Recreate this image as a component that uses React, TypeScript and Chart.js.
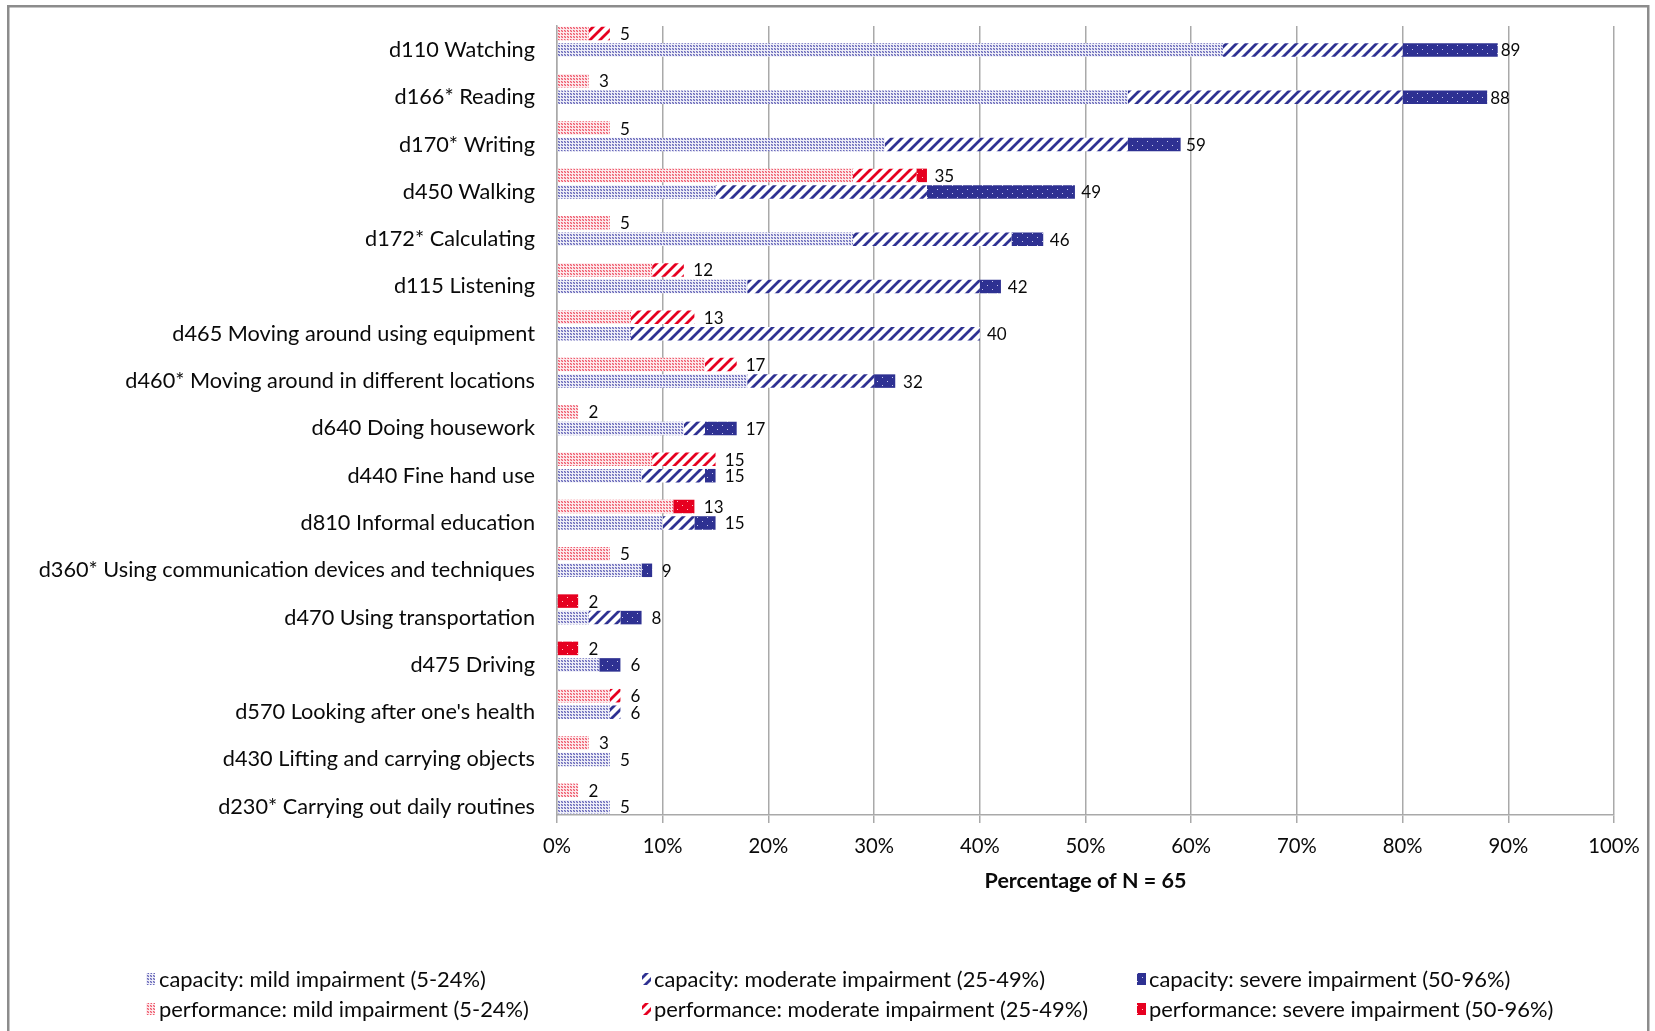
import React, { useEffect, useRef } from 'react';
import { Chart, registerables } from 'chart.js';

Chart.register(...registerables);

const categories = [
  'd110 Watching',
  'd166* Reading',
  'd170* Writing',
  'd450 Walking',
  'd172* Calculating',
  'd115 Listening',
  'd465 Moving around using equipment',
  'd460* Moving around in different locations',
  'd640 Doing housework',
  'd440 Fine hand use',
  'd810 Informal education',
  'd360* Using communication devices and techniques',
  'd470 Using transportation',
  'd475 Driving',
  "d570 Looking after one's health",
  'd430 Lifting and carrying objects',
  'd230* Carrying out daily routines',
];

const capMild = [63, 54, 31, 15, 28, 18, 7, 18, 12, 8, 10, 8, 3, 4, 5, 5, 5];
const capModerate = [17, 26, 23, 20, 15, 22, 33, 12, 2, 6, 3, 0, 3, 0, 1, 0, 0];
const capSevere = [9, 8, 5, 14, 3, 2, 0, 2, 3, 1, 2, 1, 2, 2, 0, 0, 0];
const perfMild = [3, 3, 5, 28, 5, 9, 7, 14, 2, 9, 11, 5, 0, 0, 5, 3, 2];
const perfModerate = [2, 0, 0, 6, 0, 3, 6, 3, 0, 6, 0, 0, 0, 0, 1, 0, 0];
const perfSevere = [0, 0, 0, 1, 0, 0, 0, 0, 0, 0, 2, 0, 2, 2, 0, 0, 0];

const seriesNames = [
  'performance: mild impairment (5-24%)',
  'performance: moderate impairment (25-49%)',
  'performance: severe impairment (50-96%)',
  'capacity: mild impairment (5-24%)',
  'capacity: moderate impairment (25-49%)',
  'capacity: severe impairment (50-96%)',
];

const xTickValues = [0, 10, 20, 30, 40, 50, 60, 70, 80, 90, 100];
const axisTitle = 'Percentage of N = 65';

const FONT = "Lato, 'Noto Sans', sans-serif";
const TEXT = '#0a0a0a';
const GRID = '#a9a9a9';
const NAVY = '#2e3192';
const RED = '#e60020';

function tile(w: number, h: number, draw: (g: CanvasRenderingContext2D) => void) {
  const c = document.createElement('canvas');
  c.width = w;
  c.height = h;
  const g = c.getContext('2d')!;
  draw(g);
  return g.createPattern(c, 'repeat')!;
}

function ditherPattern(dark: string, mid: string, light: string) {
  return tile(3, 3, (g) => {
    g.fillStyle = light;
    g.fillRect(0, 0, 3, 3);
    g.fillStyle = mid;
    g.fillRect(1, 0, 1, 1);
    g.fillRect(0, 1, 1, 1);
    g.fillStyle = dark;
    g.fillRect(0, 0, 1, 1);
    g.fillRect(1, 1, 1, 1);
  });
}

function stripePattern(color: string) {
  const n = 10;
  return tile(n, n, (g) => {
    g.fillStyle = '#ffffff';
    g.fillRect(0, 0, n, n);
    g.strokeStyle = color;
    g.lineWidth = 2.8;
    g.beginPath();
    g.moveTo(-n, n);
    g.lineTo(n, -n);
    g.moveTo(0, 2 * n);
    g.lineTo(2 * n, 0);
    g.moveTo(-n, 2 * n);
    g.lineTo(2 * n, -n);
    g.stroke();
  });
}

function dotPattern(bg: string, dot: string) {
  return tile(10, 8, (g) => {
    g.fillStyle = bg;
    g.fillRect(0, 0, 10, 8);
    g.fillStyle = dot;
    g.fillRect(2, 1, 1, 1);
    g.fillRect(7, 5, 1, 1);
  });
}

export default function App() {
  const ref = useRef<HTMLCanvasElement | null>(null);

  useEffect(() => {
    document.body.style.margin = '0';
    const canvas = ref.current;
    if (!canvas) return;

    const fills = [
      ditherPattern('#ee5a6c', '#f7aab4', '#fde9ec'),
      stripePattern(RED),
      dotPattern(RED, '#ffc8cc'),
      ditherPattern('#6868ba', '#aeaed9', '#eeeef8'),
      stripePattern(NAVY),
      dotPattern(NAVY, '#c8c8ec'),
    ];

    const values = [perfMild, perfModerate, perfSevere, capMild, capModerate, capSevere];
    const stacks = ['perf', 'perf', 'perf', 'cap', 'cap', 'cap'];

    const datasets = values.map((arr, k) => ({
      label: seriesNames[k],
      data: arr.map((v, i) => ({ x: v, y: i })),
      backgroundColor: fills[k],
      borderWidth: 0,
      stack: stacks[k],
      categoryPercentage: 0.698,
      barPercentage: 0.818,
    }));

    const borderPlugin = {
      id: 'outerBorder',
      beforeDraw(chart: any) {
        const ctx = chart.ctx;
        ctx.save();
        ctx.fillStyle = '#ffffff';
        ctx.fillRect(0, 0, chart.width, chart.height);
        ctx.strokeStyle = '#8c8c8c';
        ctx.lineWidth = 2.5;
        ctx.strokeRect(8.25, 6.25, 1640, 1100);
        ctx.restore();
      },
    };

    const totalsPlugin = {
      id: 'totals',
      afterDatasetsDraw(chart: any) {
        const ctx = chart.ctx;
        ctx.save();
        ctx.font = `17px ${FONT}`;
        ctx.fillStyle = TEXT;
        ctx.textAlign = 'left';
        ctx.textBaseline = 'middle';
        for (const group of [[0, 1, 2], [3, 4, 5]]) {
          for (let i = 0; i < categories.length; i++) {
            let last = -1;
            let total = 0;
            for (const d of group) {
              const v = values[d][i];
              total += v;
              if (v > 0) last = d;
            }
            if (last < 0) continue;
            const el = chart.getDatasetMeta(last).data[i];
            const gap = 10.5 - 0.085 * total;
            ctx.fillText(String(Math.round(total)), el.x + gap, el.y + 1);
          }
        }
        ctx.restore();
      },
    };

    const legendRows = [
      [3, 4, 5],
      [0, 1, 2],
    ];
    const markerX = [146, 642, 1137];
    const textX = [159, 654, 1149];
    const legendY = [979, 1009];

    const legendPlugin = {
      id: 'customLegend',
      afterDraw(chart: any) {
        const ctx = chart.ctx;
        ctx.save();
        ctx.font = `21.9px ${FONT}`;
        ctx.textAlign = 'left';
        ctx.textBaseline = 'middle';
        legendRows.forEach((row, r) => {
          row.forEach((d, c) => {
            const y = legendY[r];
            ctx.fillStyle = fills[d];
            ctx.fillRect(markerX[c], y - 6, 9, 12);
            ctx.fillStyle = TEXT;
            ctx.fillText(seriesNames[d], textX[c], y + 1);
          });
        });
        ctx.restore();
      },
    };

    const indexTicks = (s: any) => {
      s.ticks = categories.map((_, i) => ({ value: i }));
    };

    const chart = new Chart(canvas, {
      type: 'bar',
      data: { datasets: datasets as any },
      options: {
        indexAxis: 'y',
        animation: false,
        responsive: false,
        devicePixelRatio: 1,
        events: [],
        layout: { padding: { left: 0, right: 41, top: 26, bottom: 137 } },
        plugins: {
          legend: { display: false },
          tooltip: { enabled: false },
        },
        scales: {
          x: {
            type: 'linear',
            position: 'bottom',
            min: 0,
            max: 100,
            stacked: true,
            offset: false,
            afterBuildTicks: (s: any) => {
              s.ticks = xTickValues.map((v) => ({ value: v }));
            },
            ticks: {
              callback: (v: any) => `${v}%`,
              padding: 11.5,
              maxRotation: 0,
              autoSkip: false,
              color: TEXT,
              font: { family: FONT, size: 20.3 },
            },
            grid: { color: GRID, lineWidth: 1.5, tickLength: 8, drawTicks: true, offset: false },
            border: { display: true, color: GRID, width: 1.5 },
            title: {
              display: true,
              text: axisTitle,
              color: TEXT,
              padding: { top: 0, bottom: 0 },
              font: { family: FONT, size: 21.5, weight: 'bold' },
            },
            afterFit: (s: any) => {
              s.height = 79;
            },
          },
          y: {
            type: 'linear',
            display: false,
            reverse: true,
            offset: false,
            bounds: 'data',
            min: -0.333,
            max: 16.348,
            afterBuildTicks: indexTicks,
            grid: { display: false, offset: false },
          },
          y2: {
            type: 'linear',
            axis: 'y',
            position: 'left',
            reverse: true,
            offset: false,
            bounds: 'data',
            min: -0.5074,
            max: 16.174,
            afterBuildTicks: indexTicks,
            grid: { display: false, drawTicks: false, offset: false },
            border: { display: true, color: GRID, width: 1.5 },
            ticks: {
              callback: (v: any) => categories[Math.round(v)] ?? '',
              padding: 22,
              autoSkip: false,
              color: TEXT,
              font: { family: FONT, size: 21.7 },
            },
            afterFit: (s: any) => {
              s.width = 557;
              s.paddingTop = 0;
              s.paddingBottom = 0;
            },
          },
        } as any,
      },
      plugins: [borderPlugin, totalsPlugin, legendPlugin],
    });

    return () => {
      chart.destroy();
    };
  }, []);

  return (
    <div style={{ position: 'absolute', left: 0, top: 0, width: 1655, height: 1031 }}>
      <canvas ref={ref} width={1655} height={1031} style={{ display: 'block' }} />
    </div>
  );
}
